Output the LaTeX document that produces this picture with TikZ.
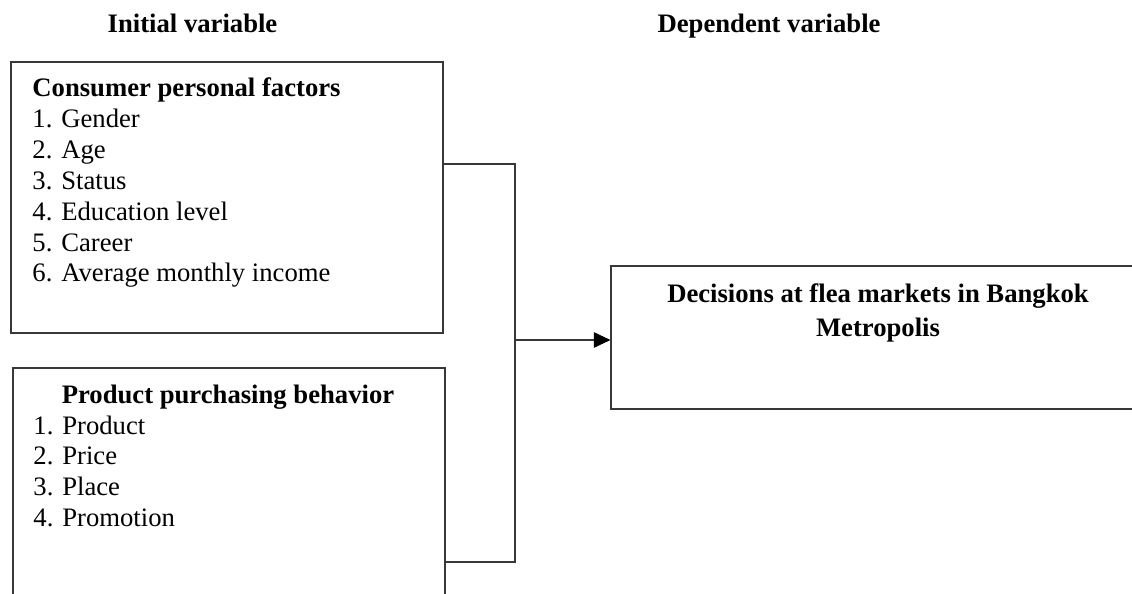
\documentclass[tikz,border=0pt]{standalone}
\usepackage{fontspec}
\setmainfont{Liberation Serif}
\usetikzlibrary{arrows.meta,fit}
\begin{document}
\begin{tikzpicture}[x=0.45pt,y=-0.45pt,
  box/.style={draw=black!78, line width=0.5pt, inner sep=0pt, rectangle},
  txt/.style={inner sep=0pt, font=\fontsize{12}{13.86}\selectfont},
  hd/.style={inner sep=0pt, font=\fontsize{12}{13.86}\selectfont\bfseries},
  conn/.style={draw=black!78, line width=0.5pt},
  tip/.style={-{Triangle[length=7.5pt,width=7pt,color=black]}}
]
\useasboundingbox (0,0) rectangle (1132,593);
\clip (0,0) rectangle (1132,593);

% headings
\node[hd, anchor=base] (h1) at (192.5,33) {Initial variable};
\node[hd, anchor=base east] (h2) at (881,33) {Dependent variable};

% boxes
\node[box, fit={(11,62) (443,333)}] (box1) {};
\node[box, fit={(13,368) (445,640)}] (box2) {};
\node[box, fit={(611,266) (1145,409)}] (box3) {};

% texts
\node[txt, anchor=base west] (t1) at (32,97) {\begin{tabular}[t]{@{}l@{}}\textbf{Consumer personal factors}\\1. Gender\\2. Age\\3. Status\\4. Education level\\5. Career\\6. Average monthly income\end{tabular}};
\node[hd, anchor=base] (t2h) at (228,403) {Product purchasing behavior};
\node[txt, anchor=base west] (t2) at (33,434) {\begin{tabular}[t]{@{}l@{}}1. Product\\2. Price\\3. Place\\4. Promotion\end{tabular}};
\node[hd, anchor=base] (t3) at (878,302) {\begin{tabular}[t]{@{}c@{}}Decisions at flea markets in Bangkok\\[1.55pt]Metropolis\end{tabular}};

% connectors
\coordinate (j1) at (515,164);
\coordinate (j2) at (515,562);
\coordinate (j3) at (515,340);
\draw[conn] (box1.east |- j1) -- (j1) -- (j2) -- (box2.east |- j2);
\draw[conn, tip] (j3) -- (j3 -| box3.west);
\end{tikzpicture}
\end{document}
